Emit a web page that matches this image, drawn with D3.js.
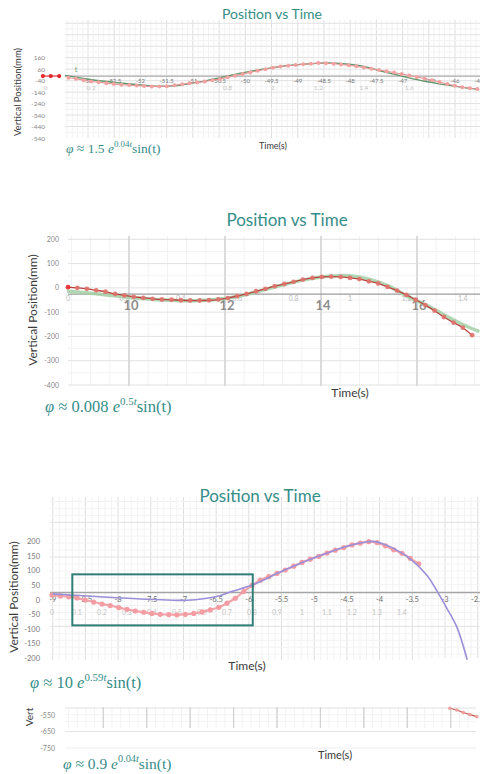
<!DOCTYPE html>
<html>
<head>
<meta charset="utf-8">
<script src="https://cdn.jsdelivr.net/npm/d3@7"></script>
<style>
  body { margin: 0; background: #fff; }
  text { font-family: Lato, "Open Sans", sans-serif; }
</style>
</head>
<body>
<script>
// video frame times (s), 30 fps
const frameTimes = [0, 0.033, 0.067, 0.1, 0.133, 0.167, 0.2, 0.233, 0.267, 0.3,
  0.333, 0.367, 0.4, 0.433, 0.467, 0.5, 0.533, 0.567, 0.6, 0.633,
  0.667, 0.7, 0.733, 0.767, 0.8, 0.833, 0.867, 0.9, 0.933, 0.967,
  1, 1.033, 1.067, 1.1, 1.133, 1.167, 1.2, 1.233, 1.267, 1.3,
  1.333, 1.367, 1.4, 1.433, 1.467, 1.5, 1.533, 1.567, 1.6, 1.633,
  1.667, 1.7, 1.733, 1.767, 1.8, 1.833, 1.867, 1.9];

// ---- panel 1 : phi ~ 1.5 e^0.04t sin(t)
const p1Times = frameTimes.slice(3, 58);
const p1Pos = [-14, -24, -36, -47, -54, -62, -70, -75, -79, -83,
  -87, -90, -91, -88, -81, -72, -63, -56, -47, -36,
  -25, -11, 3, 17, 32, 46, 59, 73, 83, 90,
  96, 102, 108, 113, 112, 108, 101, 94, 85, 74,
  63, 52, 42, 30, 18, 5, -8, -22, -36, -52,
  -69, -85, -97, -106, -112];
const p1LeadX = [-53.86, -53.71, -53.55];
const p1LeadPos = [0, 0, 0];
const p1FitX = [-53.44, -52.96, -52.39, -51.82, -51.53, -51.24, -50.86, -50.35, -49.91, -49.34,
  -48.95, -48.57, -48.19, -47.81, -47.43, -47.05, -46.66, -46.28, -45.89, -45.56];
const p1FitPos = [5, -30, -60, -85, -88, -80, -50, 0, 40, 82,
  101, 113, 110, 90, 46, 3, -38, -70, -96, -115];
const p1XTicks = [-53, -52.5, -52, -51.5, -51, -50.5, -50, -49.5, -49, -48.5, -48, -47.5, -47, -46.5, -46, -45.5];
const p1TTicks = [0, 0.2, 0.8, 1, 1.2, 1.4, 1.6];
const p1YTicks = [160, 60, -40, -140, -240, -340, -440, -540];

// ---- panel 2 : phi ~ 0.008 e^0.5t sin(t)
const p2Times = frameTimes.slice(0, 44);
const p2Pos = [3, 0, -4, -10, -16, -25, -31, -37, -41, -45,
  -48, -49, -51, -52, -52, -51, -48, -42, -34, -25,
  -14, -4, 7, 16, 25, 34, 41, 45, 46, 45,
  41, 36, 27, 18, 4, -11, -29, -49, -71, -94,
  -120, -143, -164, -195];
const p2FitX = [8.71, 9.2, 9.7, 10.2, 10.7, 11.2, 11.7, 12.2, 12.7, 13.2,
  13.7, 14.2, 14.6, 15.0, 15.4, 15.8, 16.2, 16.6, 17.0, 17.3];
const p2FitPos = [-14, -22, -33, -43, -50, -53, -50, -38, -14, 12,
  35, 49, 50, 36, 8, -35, -72, -115, -155, -180];
const p2XTicks = [10, 12, 14, 16];
const p2TTicks = [0, 0.2, 0.4, 0.6, 0.8, 1, 1.2, 1.4];
const p2YTicks = [200, 100, 0, -100, -200, -300, -400];

// ---- panel 3 : phi ~ 10 e^0.59t sin(t)
const p3Times = frameTimes.slice(0, 45);
const p3Pos = [17, 14, 11, 7, 0, -7, -14, -19, -26, -32,
  -38, -42, -46, -49, -50, -51, -49, -46, -41, -34,
  -25, -11, 6, 29, 50, 68, 80, 91, 103, 116,
  129, 140, 150, 161, 171, 180, 189, 195, 200, 197,
  186, 172, 160, 143, 124];
const p3FitX = [-9.0, -8.28, -7.77, -7.25, -6.95, -6.49, -6.25, -5.94, -5.48, -4.96,
  -4.46, -4.19, -4.10, -3.89, -3.74, -3.57, -3.28, -3.13, -2.98, -2.82, -2.66];
const p3FitPos = [21, 11, 5, 0, -1, 12, 30, 52, 100, 148,
  187, 200, 201, 188, 171, 148, 86, 34, -25, -92, -205];
const p3BoxX = [-8.7, -5.94];
const p3BoxPos = [88, -87];
const p3XTicks = [-9, -8.5, -8, -7.5, -7, -6.5, -6, -5.5, -5, -4.5, -4, -3.5, -3, -2.5];
const p3TTicks = [0, 0.1, 0.2, 0.3, 0.4, 0.5, 0.6, 0.7, 0.8, 0.9, 1, 1.1, 1.2, 1.3, 1.4];
const p3YTicks = [200, 150, 100, 50, 0, -50, -100, -150, -200];

// ---- panel 4 : phi ~ 0.9 e^0.04t sin(t)
const p4X = [8.98, 9.14, 9.29, 9.44, 9.6];
const p4Pos = [-509, -520, -535, -548, -560];
const p4YTicks = [-550, -650, -750];

const teal = "#368d89";
const svg = d3.select("body").append("svg")
    .attr("width", 480)
    .attr("height", 774)
    .attr("viewBox", [0, 0, 480, 774])
    .style("display", "block");

// desmos-like grid: minor lines every dx/dy, every n-th one darker
function drawGrid(box, x0, dx, nx, y0, dy, ny) {
  const g = svg.append("g");
  const kx0 = Math.ceil((box.left - x0) / dx), kx1 = Math.floor((box.right - x0) / dx);
  for (let k = kx0; k <= kx1; k++) {
    const x = x0 + k * dx;
    g.append("line").attr("x1", x).attr("x2", x).attr("y1", box.top).attr("y2", box.bottom)
      .attr("stroke", k % nx === 0 ? "#dedede" : "#f2f2f2").attr("stroke-width", 1);
  }
  const ky0 = Math.ceil((box.top - y0) / dy), ky1 = Math.floor((box.bottom - y0) / dy);
  for (let k = ky0; k <= ky1; k++) {
    const y = y0 + k * dy;
    g.append("line").attr("x1", box.left).attr("x2", box.right).attr("y1", y).attr("y2", y)
      .attr("stroke", k % ny === 0 ? "#e2e2e2" : "#f3f3f3").attr("stroke-width", 1);
  }
  return g;
}

function hline(x1, x2, y, color, w) {
  svg.append("line").attr("x1", x1).attr("x2", x2).attr("y1", y).attr("y2", y)
    .attr("stroke", color).attr("stroke-width", w);
}

function formula(x, y, size, coef, expo) {
  const t = svg.append("text").attr("x", x).attr("y", y)
    .attr("fill", teal).attr("font-size", size)
    .style("font-family", "'Liberation Serif', 'DejaVu Serif', serif");
  t.append("tspan").attr("font-style", "italic").text("φ");
  t.append("tspan").text(" ≈ " + coef + " ");
  t.append("tspan").attr("font-style", "italic").text("e");
  t.append("tspan").attr("dy", -size * 0.42).attr("font-size", size * 0.66).text(expo);
  t.append("tspan").attr("font-size", size * 0.66).attr("font-style", "italic").text("t");
  t.append("tspan").attr("dy", size * 0.42).text("sin(t)");
}

function label(x, y, size, txt, opts = {}) {
  return svg.append("text").attr("x", x).attr("y", y).attr("font-size", size)
    .attr("fill", opts.fill || "#3a3a3a").attr("text-anchor", opts.anchor || "middle")
    .attr("transform", opts.rotate ? `rotate(-90,${x},${y})` : null)
    .text(txt);
}

const curve = (xs, ys) => d3.line().x(d => xs(d[0])).y(d => ys(d[1])).curve(d3.curveCatmullRom);

// ================= panel 1 =================
{
  const x = d3.scaleLinear([-53, -46], [88, 455]);
  const t = d3.scaleLinear([0, 1.6], [45.7, 409.3]);
  const y = d3.scaleLinear([-540, 160], [138, 57.7]);

  drawGrid({left: 65, right: 480, top: 20, bottom: 138},
    x(-53), x(-52.9) - x(-53), 5, y(160), (y(60) - y(160)) / 2, 2);
  hline(65, 480, y(0), "#a9a9a9", 1.2);

  svg.append("g").selectAll("text").data(p1YTicks).join("text")
    .attr("x", 45).attr("y", d => y(d) + 2.5).attr("text-anchor", "end")
    .attr("font-size", 6.5).attr("fill", "#888").text(d => d);
  svg.append("g").selectAll("text").data(p1XTicks).join("text")
    .attr("x", d => x(d)).attr("y", y(0) + 7)
    .attr("text-anchor", "middle")
    .attr("font-size", 6).attr("fill", "#777").text(d => d);
  svg.append("g").selectAll("text").data(p1TTicks).join("text")
    .attr("x", d => t(d)).attr("y", y(0) + 13.5).attr("text-anchor", "middle")
    .attr("font-size", 6.5).attr("fill", "#c4c4c4").text(d => d);

  svg.append("path").datum(p1FitX.map((d, i) => [d, p1FitPos[i]]))
    .attr("fill", "none").attr("stroke", "#5f9468").attr("stroke-width", 1.3)
    .attr("d", curve(x, y));
  svg.append("path").datum(p1Times.map((d, i) => [d, p1Pos[i]]))
    .attr("fill", "none").attr("stroke", "#e28c8c").attr("stroke-width", 1)
    .attr("d", curve(t, y));
  svg.append("g").selectAll("circle").data(p1Times).join("circle")
    .attr("cx", d => t(d)).attr("cy", (d, i) => y(p1Pos[i])).attr("r", 2)
    .attr("fill", "#f3a2a2");

  svg.append("path").datum(p1LeadX.map((d, i) => [d, p1LeadPos[i]]))
    .attr("fill", "none").attr("stroke", "#e03030").attr("stroke-width", 1.2)
    .attr("d", d3.line().x(d => x(d[0])).y(d => y(d[1])));
  svg.append("g").selectAll("circle").data(p1LeadX).join("circle")
    .attr("cx", d => x(d)).attr("cy", (d, i) => y(p1LeadPos[i])).attr("r", 2.1)
    .attr("fill", "#e02828");
  label(76, y(0) - 4, 7, "t", {fill: "#6ca36f"});

  label(272, 19, 14, "Position vs Time", {fill: teal});
  label(21, 92, 9.5, "Vertical Position(mm)", {rotate: true});
  label(273, 149, 9, "Time(s)");
  formula(66, 153, 13.5, "1.5", "0.04");
}

// ================= panel 2 =================
{
  const x = d3.scaleLinear([10, 16], [129, 417]);
  const t = d3.scaleLinear([0, 1], [68, 350]);
  const y = d3.scaleLinear([-400, 200], [385, 239.3]);

  drawGrid({left: 68, right: 480, top: 236, bottom: 386},
    x(10), x(10.4) - x(10), 5, y(200), (y(100) - y(200)) / 2, 2);
  svg.append("g").selectAll("line").data(p2XTicks).join("line")
    .attr("x1", d => x(d)).attr("x2", d => x(d)).attr("y1", 236).attr("y2", 386)
    .attr("stroke", "#d6d6d6").attr("stroke-width", 1.6);
  hline(68, 480, y(-26), "#9c9c9c", 1.2);

  svg.append("g").selectAll("text").data(p2YTicks).join("text")
    .attr("x", 59).attr("y", d => y(d) + 2.5).attr("text-anchor", "end")
    .attr("font-size", 7).attr("fill", "#8a8a8a").text(d => d);
  svg.append("g").selectAll("text").data(p2TTicks).join("text")
    .attr("x", d => t(d)).attr("y", 301).attr("text-anchor", "middle")
    .attr("font-size", 7).attr("fill", "#bdbdbd").text(d => d);
  svg.append("g").selectAll("text").data(p2XTicks).join("text")
    .attr("x", d => x(d) + 2).attr("y", 310).attr("text-anchor", "middle")
    .attr("font-size", 13).attr("font-weight", "bold").attr("fill", "#8d8d8d").text(d => d);

  svg.append("path").datum(p2FitX.map((d, i) => [d, p2FitPos[i]]))
    .attr("fill", "none").attr("stroke", "#a3cfa7").attr("stroke-width", 3.5)
    .attr("stroke-opacity", 0.85).attr("d", curve(x, y));
  svg.append("path").datum(p2Times.map((d, i) => [d, p2Pos[i]]))
    .attr("fill", "none").attr("stroke", "#b6463d").attr("stroke-width", 1.3)
    .attr("d", curve(t, y));
  svg.append("g").selectAll("circle").data(p2Times).join("circle")
    .attr("cx", d => t(d)).attr("cy", (d, i) => y(p2Pos[i])).attr("r", 2.4)
    .attr("fill", (d, i) => i === 0 ? "#e3262a" : "#e0716c").attr("fill-opacity", 0.9);

  label(287, 226, 17, "Position vs Time", {fill: teal});
  label(37, 310, 12, "Vertical Position(mm)", {rotate: true});
  label(350, 397, 12, "Time(s)");
  formula(45, 412, 16.5, "0.008", "0.5");
}

// ================= panel 3 =================
{
  const x = d3.scaleLinear([-9, -3], [52.7, 445]);
  const t = d3.scaleLinear([0, 1.4], [52, 402]);
  const y = d3.scaleLinear([-200, 200], [658.3, 541.7]);

  drawGrid({left: 50, right: 480, top: 497, bottom: 660},
    x(-9), x(-8.9) - x(-9), 5, 522.3, 6.94, 5);
  svg.append("rect").attr("x", 420).attr("y", 658).attr("width", 60).attr("height", 6).attr("fill", "#fff");
  hline(50, 480, 592.7, "#a4a4a4", 1.2);

  svg.append("g").selectAll("text").data(p3YTicks).join("text")
    .attr("x", 40).attr("y", d => y(d) + 2.5).attr("text-anchor", "end")
    .attr("font-size", 7.5).attr("fill", "#7a7a7a").text(d => d);
  svg.append("g").selectAll("text").data(p3XTicks).join("text")
    .attr("x", d => x(d)).attr("y", 602).attr("text-anchor", "middle")
    .attr("font-size", 7.5).attr("fill", "#6f6f6f").text(d => d);
  svg.append("g").selectAll("text").data(p3TTicks).join("text")
    .attr("x", d => t(d)).attr("y", 615).attr("text-anchor", "middle")
    .attr("font-size", 7).attr("fill", "#c4c4c4").text(d => d);

  svg.append("path").datum(p3Times.map((d, i) => [d, p3Pos[i]]))
    .attr("fill", "none").attr("stroke", "#f2a4aa").attr("stroke-width", 2.2)
    .attr("d", curve(t, y));
  svg.append("g").selectAll("circle").data(p3Times).join("circle")
    .attr("cx", d => t(d)).attr("cy", (d, i) => y(p3Pos[i])).attr("r", 2.6)
    .attr("fill", "#f39ca3");
  svg.append("path").datum(p3FitX.map((d, i) => [d, p3FitPos[i]]))
    .attr("fill", "none").attr("stroke", "#9a8fd8").attr("stroke-width", 1.6)
    .attr("d", curve(x, y));

  svg.append("rect")
    .attr("x", x(p3BoxX[0])).attr("y", y(p3BoxPos[0]))
    .attr("width", x(p3BoxX[1]) - x(p3BoxX[0])).attr("height", y(p3BoxPos[1]) - y(p3BoxPos[0]))
    .attr("fill", "none").attr("stroke", "#2f7e78").attr("stroke-width", 2);

  label(260, 502, 17, "Position vs Time", {fill: teal});
  label(18, 597, 12, "Vertical Position(mm)", {rotate: true});
  label(247, 670, 12, "Time(s)");
  formula(30, 688, 16.5, "10", "0.59");
}

// ================= panel 4 =================
{
  const x = d3.scaleLinear([1, 9], [103.3, 450.7]);
  const y = d3.scaleLinear([-750, -550], [748, 715]);

  drawGrid({left: 65, right: 476, top: 707, bottom: 728},
    x(1), (x(2) - x(1)) / 5, 5, 708, 6.7, 100);
  svg.append("g").selectAll("line").data(d3.range(1, 10)).join("line")
    .attr("x1", d => x(d)).attr("x2", d => x(d)).attr("y1", 707).attr("y2", 728)
    .attr("stroke", "#d2d2d2").attr("stroke-width", 1.2);
  hline(65, 476, y(-650), "#e4e4e4", 1);
  hline(65, 476, y(-750), "#eeeeee", 1);

  svg.append("g").selectAll("text").data(p4YTicks).join("text")
    .attr("x", 55).attr("y", d => y(d) + 2.5).attr("text-anchor", "end")
    .attr("font-size", 7).attr("fill", "#8a8a8a").text(d => d);

  svg.append("path").datum(p4X.map((d, i) => [d, p4Pos[i]]))
    .attr("fill", "none").attr("stroke", "#c0574f").attr("stroke-width", 1.2)
    .attr("d", curve(x, y));
  svg.append("g").selectAll("circle").data(p4X).join("circle")
    .attr("cx", d => x(d)).attr("cy", (d, i) => y(p4Pos[i])).attr("r", 1.8)
    .attr("fill", "#f0a0a0");

  label(33, 717, 10, "Vert", {rotate: true});
  label(335, 759, 11, "Time(s)");
  formula(63, 769, 15.5, "0.9", "0.04");
}
</script>
</body>
</html>
